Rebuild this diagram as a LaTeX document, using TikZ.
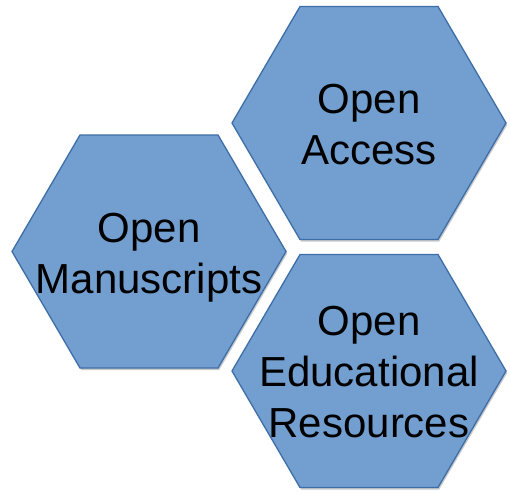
\documentclass[tikz,border=0pt]{standalone}
\usepackage{fontspec}
\setmainfont{Liberation Sans}
\usetikzlibrary{shadows}
\definecolor{hexfill}{RGB}{114,159,207}
\definecolor{hexline}{RGB}{62,110,168}
\tikzset{
  hexbox/.style={fill=hexfill, draw=hexline, line width=1.3pt, line join=miter,
    drop shadow={shadow xshift=1.2pt, shadow yshift=-2pt, opacity=0.35, fill=black!60}},
  hextext/.style={font=\fontsize{42}{51}\selectfont, align=center, inner sep=0pt, text=black}
}
\begin{document}
\begin{tikzpicture}[x=1pt,y=-1pt]
\useasboundingbox (0,0) rectangle (510,493);
\fill[white] (0,0) rectangle (510,493);
% hexagons: centre (cx,cy), half width 137, top edge half 69, half height 116.5
\foreach \cx/\cy in {369/123, 149/251.5, 369/371}{
  \path[hexbox] (\cx-137,\cy) -- (\cx-69,\cy-116.5) -- (\cx+69,\cy-116.5)
     -- (\cx+137,\cy) -- (\cx+69,\cy+116.5) -- (\cx-69,\cy+116.5) -- cycle;
}
% anchor=base is the baseline of the last line
\node[hextext, anchor=base] (access) at (369,164) {Open\\Access};
\node[hextext, anchor=base] (manu) at (149,293) {Open\\Manuscripts};
\node[hextext, anchor=base] (oer) at (369,437) {Open\\Educational\\Resources};
\end{tikzpicture}
\end{document}
